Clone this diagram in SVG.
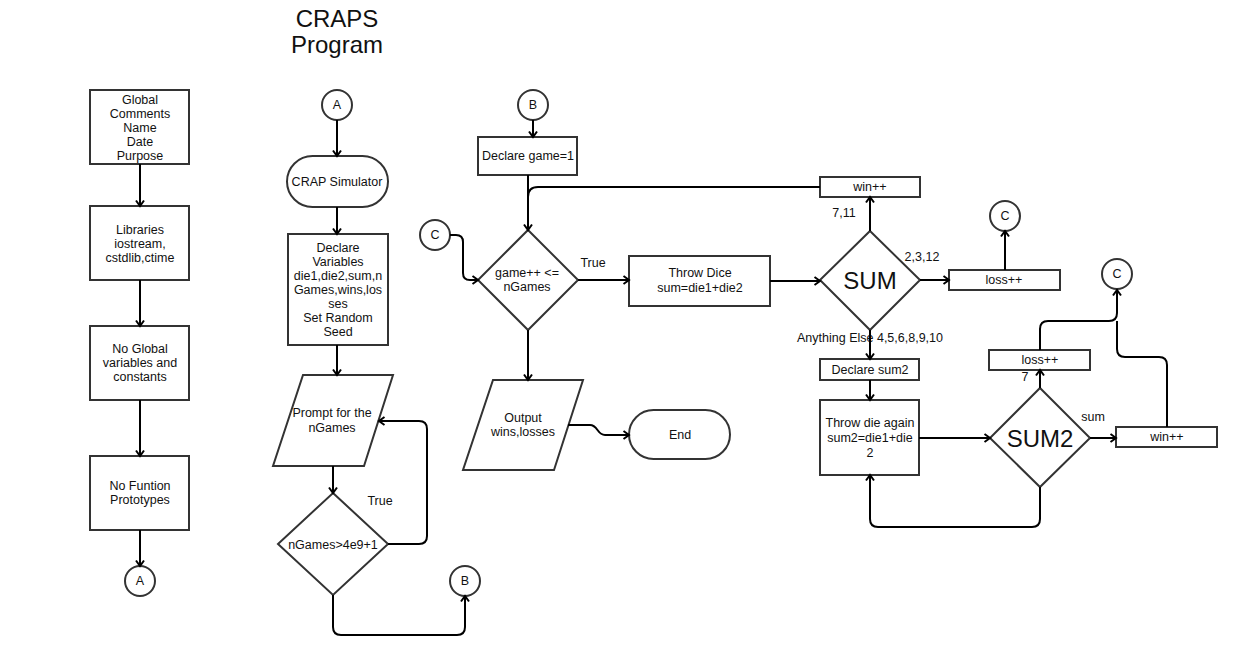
<svg xmlns="http://www.w3.org/2000/svg" width="1237" height="660" viewBox="0 0 1237 660">
  <style>
    .shape { fill: #fff; stroke: #333; stroke-width: 2; }
    .conn { fill: none; stroke: #000; stroke-width: 2; stroke-linejoin: round; }
    .arrow { marker-end: url(#arr); }
    text { font-family: "Liberation Sans", Arial, sans-serif; font-size: 12.5px; fill: #111; text-anchor: middle; }
    .big { font-size: 24px; }
  </style>
  <defs>
    <marker id="arr" markerWidth="10" markerHeight="10" refX="7" refY="5" orient="auto" markerUnits="userSpaceOnUse">
      <path d="M1.5,1 L7,5 L1.5,9" fill="none" stroke="#000" stroke-width="2"/>
    </marker>
  </defs>
  <rect width="1237" height="660" fill="#fff"/>

  <!-- title -->
  <g id="title">
    <text class="big" x="337" y="27">CRAPS</text>
    <text class="big" x="337" y="53">Program</text>
  </g>

  <!-- header column -->
  <g id="n-global">
    <rect class="shape" x="90" y="90" width="99" height="74"/>
    <text x="140" y="104">Global</text>
    <text x="140" y="118">Comments</text>
    <text x="140" y="132">Name</text>
    <text x="140" y="146">Date</text>
    <text x="140" y="160">Purpose</text>
  </g>
  <g id="n-libs">
    <rect class="shape" x="90" y="206" width="99" height="74"/>
    <text x="140" y="234">Libraries</text>
    <text x="140" y="248">iostream,</text>
    <text x="140" y="262">cstdlib,ctime</text>
  </g>
  <g id="n-noglobal">
    <rect class="shape" x="90" y="326" width="99" height="74"/>
    <text x="140" y="353">No Global</text>
    <text x="140" y="367">variables and</text>
    <text x="140" y="381">constants</text>
  </g>
  <g id="n-noproto">
    <rect class="shape" x="90" y="456" width="99" height="74"/>
    <text x="140" y="490">No Funtion</text>
    <text x="140" y="504">Prototypes</text>
  </g>
  <g id="n-a-out">
    <circle class="shape" cx="140" cy="581" r="15"/>
    <text x="140" y="585">A</text>
  </g>

  <!-- main setup column -->
  <g id="n-a-in">
    <circle class="shape" cx="337" cy="105" r="15"/>
    <text x="337" y="109">A</text>
  </g>
  <g id="n-simulator">
    <rect class="shape" x="287" y="156" width="101" height="51" rx="25.5"/>
    <text x="337" y="186">CRAP Simulator</text>
  </g>
  <g id="n-declare-vars">
    <rect class="shape" x="288" y="234" width="100" height="111"/>
    <text x="338" y="252">Declare</text>
    <text x="338" y="266">Variables</text>
    <text x="338" y="280">die1,die2,sum,n</text>
    <text x="338" y="294">Games,wins,los</text>
    <text x="338" y="308">ses</text>
    <text x="338" y="322">Set Random</text>
    <text x="338" y="336">Seed</text>
  </g>
  <g id="n-prompt">
    <polygon class="shape" points="303,375 393,375 364,466 273,466"/>
    <text x="332" y="417">Prompt for the</text>
    <text x="332" y="432">nGames</text>
  </g>
  <g id="n-check">
    <polygon class="shape" points="333,493 388,544 333,595 278,544"/>
    <text x="333" y="549">nGames&gt;4e9+1</text>
  </g>
  <g id="n-b-out">
    <circle class="shape" cx="465" cy="581" r="15"/>
    <text x="465" y="585">B</text>
  </g>

  <!-- game loop -->
  <g id="n-b-in">
    <circle class="shape" cx="533" cy="105" r="15"/>
    <text x="533" y="109">B</text>
  </g>
  <g id="n-declare-game">
    <rect class="shape" x="478" y="137" width="99" height="38"/>
    <text x="528" y="160">Declare game=1</text>
  </g>
  <g id="n-c-in">
    <circle class="shape" cx="435" cy="235" r="15"/>
    <text x="435" y="239">C</text>
  </g>
  <g id="n-game-check">
    <polygon class="shape" points="528,230 578,280 528,330 478,280"/>
    <text x="527" y="277">game++ &lt;=</text>
    <text x="527" y="291">nGames</text>
  </g>
  <g id="n-throw">
    <rect class="shape" x="629" y="256" width="141" height="50"/>
    <text x="700" y="277">Throw Dice</text>
    <text x="700" y="292">sum=die1+die2</text>
  </g>
  <g id="n-output">
    <polygon class="shape" points="493,380 583,380 554,470 463,470"/>
    <text x="523" y="422">Output</text>
    <text x="523" y="436">wins,losses</text>
  </g>
  <g id="n-end">
    <rect class="shape" x="629" y="410" width="101" height="49" rx="24.5"/>
    <text x="680" y="439">End</text>
  </g>

  <!-- outcome branch -->
  <g id="n-win1">
    <rect class="shape" x="820" y="177" width="100" height="20"/>
    <text x="870" y="191">win++</text>
  </g>
  <g id="n-sum">
    <polygon class="shape" points="870,231 920,280 870,330 820,280"/>
    <text class="big" x="870" y="289">SUM</text>
  </g>
  <g id="n-loss1">
    <rect class="shape" x="949" y="270" width="111" height="20"/>
    <text x="1004" y="284">loss++</text>
  </g>
  <g id="n-c-out1">
    <circle class="shape" cx="1005" cy="216" r="15"/>
    <text x="1005" y="220">C</text>
  </g>
  <g id="n-declare-sum2">
    <rect class="shape" x="820" y="359" width="99" height="21"/>
    <text x="870" y="374">Declare sum2</text>
  </g>
  <g id="n-throw2">
    <rect class="shape" x="820" y="400" width="99" height="75"/>
    <text x="870" y="427">Throw die again</text>
    <text x="870" y="442">sum2=die1+die</text>
    <text x="870" y="457">2</text>
  </g>
  <g id="n-sum2">
    <polygon class="shape" points="1040,388 1090,438 1040,487 990,438"/>
    <text class="big" x="1040" y="447">SUM2</text>
  </g>
  <g id="n-loss2">
    <rect class="shape" x="989" y="350" width="101" height="20"/>
    <text x="1040" y="364">loss++</text>
  </g>
  <g id="n-win2">
    <rect class="shape" x="1116" y="427" width="101" height="20"/>
    <text x="1167" y="441">win++</text>
  </g>
  <g id="n-c-out2">
    <circle class="shape" cx="1117" cy="274" r="15"/>
    <text x="1117" y="278">C</text>
  </g>

  <!-- branch labels -->
  <g id="labels">
    <text x="380" y="505">True</text>
    <text x="593" y="267">True</text>
    <text x="844" y="217">7,11</text>
    <text x="922" y="261">2,3,12</text>
    <text x="870" y="342">Anything Else 4,5,6,8,9,10</text>
    <text x="1025" y="381">7</text>
    <text x="1093" y="421">sum</text>
  </g>

  <!-- connectors -->
  <g id="connectors">
    <path class="conn arrow" d="M140,164 V206"/>
    <path class="conn arrow" d="M140,280 V326"/>
    <path class="conn arrow" d="M140,400 V456"/>
    <path class="conn arrow" d="M140,530 V566"/>

    <path class="conn arrow" d="M337,120 V156"/>
    <path class="conn arrow" d="M337,207 V234"/>
    <path class="conn arrow" d="M337,345 V375"/>
    <path class="conn arrow" d="M333,466 V493"/>
    <path class="conn arrow" d="M388,544 H419 Q427,544 427,536 V429 Q427,421 419,421 H379"/>
    <path class="conn arrow" d="M333,595 V627 Q333,635 341,635 H457 Q465,635 465,627 V596"/>

    <path class="conn arrow" d="M533,120 V137"/>
    <path class="conn" d="M528,175 V200"/>
    <path class="conn arrow" d="M820,187 H538 Q528,187 528,197 V230"/>
    <path class="conn arrow" d="M450,235 H456 Q463,235 463,242 V273 Q463,280 470,280 H478"/>
    <path class="conn arrow" d="M578,280 H629"/>
    <path class="conn arrow" d="M770,281 H820"/>
    <path class="conn arrow" d="M528,330 V380"/>
    <path class="conn arrow" d="M568,425 H590 C598,425 597,435 605,435 H629"/>

    <path class="conn arrow" d="M870,231 V197"/>
    <path class="conn arrow" d="M920,280 H949"/>
    <path class="conn arrow" d="M1005,270 V231"/>
    <path class="conn arrow" d="M870,330 V359"/>
    <path class="conn arrow" d="M870,380 V400"/>
    <path class="conn arrow" d="M919,438 H990"/>
    <path class="conn arrow" d="M1040,388 V370"/>
    <path class="conn arrow" d="M1040,350 V329 Q1040,321 1048,321 H1109 Q1117,321 1117,313 V290"/>
    <path class="conn arrow" d="M1090,438 H1116"/>
    <path class="conn" d="M1167,427 V365 Q1167,357 1159,357 H1125 Q1117,357 1117,349 V321"/>
    <path class="conn arrow" d="M1040,487 V519 Q1040,527 1032,527 H878 Q870,527 870,519 V475"/>
  </g>
</svg>
